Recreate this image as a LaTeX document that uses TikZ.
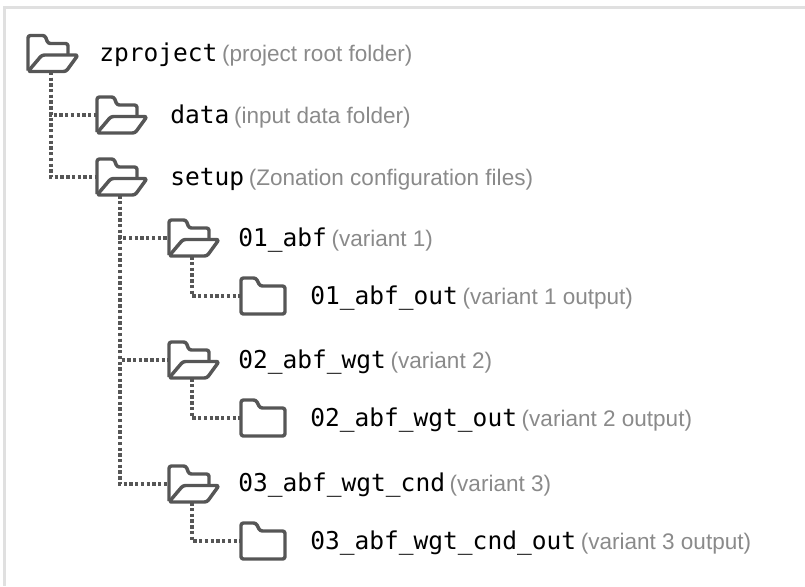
\documentclass[tikz,border=0pt]{standalone}
\usepackage{fontspec}
\setsansfont{Liberation Sans}
\setmonofont{DejaVu Sans Mono}
\usepackage{tikz}
\usetikzlibrary{positioning}

\definecolor{foldgray}{HTML}{565656}
\definecolor{notegray}{HTML}{8A8A8A}
\definecolor{framegray}{HTML}{E0E0E0}

\tikzset{
    x=0.75pt, y=-0.75pt,
    openfolder/.style={minimum width=34.5pt, minimum height=27pt, inner sep=0pt},
    shutfolder/.style={minimum width=33pt, minimum height=27pt, inner sep=0pt},
    foldline/.style={foldgray, line width=2.6pt, line join=round, rounded corners=1.8pt},
    link/.style={foldgray, line width=2.5pt, dash pattern=on 2.5pt off 1.8pt},
    lbl/.style={inner sep=0pt, anchor=base west, font=\ttfamily\fontsize{18.4}{20}\selectfont}
}

\newcommand{\lblnote}[1]{\hspace{3.5pt}{\sffamily\fontsize{16.9}{18}\selectfont\color{notegray}(#1)}}
\newcommand{\opendraw}[1]{
    \draw[foldline] ([shift={(-23,17)}]#1.center) -- ([shift={(-23,-18)}]#1.center) -- ([shift={(-6,-18)}]#1.center)
        -- ([shift={(-3,-10)}]#1.center) -- ([shift={(17,-10)}]#1.center) -- ([shift={(17,1)}]#1.center);
    \draw[foldline] ([shift={(-23,18)}]#1.center) -- ([shift={(-9,1.5)}]#1.center) -- ([shift={(27,1.5)}]#1.center)
        -- ([shift={(15,18)}]#1.center) -- cycle;
}
\newcommand{\shutdraw}[1]{
    \draw[foldline] ([shift={(-22,-18)}]#1.center) -- ([shift={(-7,-18)}]#1.center) -- ([shift={(-3,-10)}]#1.center)
        -- ([shift={(22,-10)}]#1.center) -- ([shift={(22,18)}]#1.center) -- ([shift={(-22,18)}]#1.center) -- cycle;
}

\begin{document}
\begin{tikzpicture}
    \useasboundingbox (0,0) rectangle (805,586);
    \draw[framegray, line width=2.25pt] (805,7) -- (4,7) -- (4,586);

    % folders
    \node[openfolder] (zproject) at (51,53.5) {};
    \node[openfolder] (data) at (120,115) {};
    \node[openfolder] (setup) at (120,177) {};
    \node[openfolder] (abf) at (192,238) {};
    \node[openfolder] (abfwgt) at (192,360) {};
    \node[openfolder] (abfwgtcnd) at (192,484) {};
    \node[shutfolder] (abfout) at (263,296) {};
    \node[shutfolder] (abfwgtout) at (263,418) {};
    \node[shutfolder] (abfwgtcndout) at (263,541) {};

    \foreach \f in {zproject,data,setup,abf,abfwgt,abfwgtcnd} {\opendraw{\f}}
    \foreach \f in {abfout,abfwgtout,abfwgtcndout} {\shutdraw{\f}}

    % links
    \draw[link] (zproject.south) |- (data.west);
    \draw[link] (zproject.south) |- (setup.west);
    \draw[link] (setup.south) |- (abf.west);
    \draw[link] (setup.south) |- (abfwgt.west);
    \draw[link] (setup.south) |- (abfwgtcnd.west);
    \draw[link] (abf.south) |- (abfout.west);
    \draw[link] (abfwgt.south) |- (abfwgtout.west);
    \draw[link] (abfwgtcnd.south) |- (abfwgtcndout.west);

    % labels
    \node[lbl] (zprojectlbl) at (99,61) {zproject\lblnote{project root folder}};
    \node[lbl] (datalbl) at (170,123) {data\lblnote{input data folder}};
    \node[lbl] (setuplbl) at (170,185) {setup\lblnote{Zonation configuration files}};
    \node[lbl] (abflbl) at (238,246) {01\_abf\lblnote{variant 1}};
    \node[lbl] (abfoutlbl) at (310,304) {01\_abf\_out\lblnote{variant 1 output}};
    \node[lbl] (abfwgtlbl) at (238,368) {02\_abf\_wgt\lblnote{variant 2}};
    \node[lbl] (abfwgtoutlbl) at (310,426) {02\_abf\_wgt\_out\lblnote{variant 2 output}};
    \node[lbl] (abfwgtcndlbl) at (238,491) {03\_abf\_wgt\_cnd\lblnote{variant 3}};
    \node[lbl] (abfwgtcndoutlbl) at (310,549) {03\_abf\_wgt\_cnd\_out\lblnote{variant 3 output}};
\end{tikzpicture}
\end{document}
